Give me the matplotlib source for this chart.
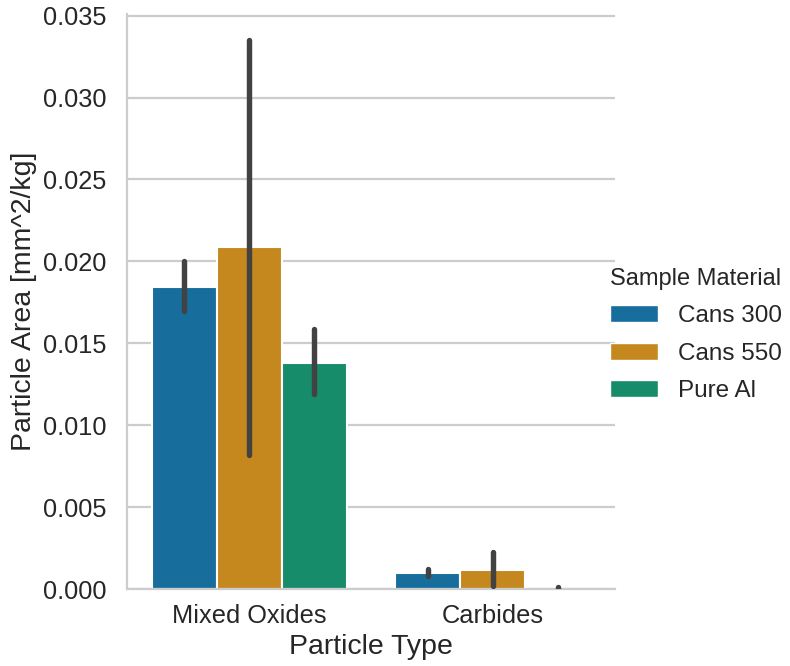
import numpy as np
import matplotlib
matplotlib.use("Agg")
import matplotlib.pyplot as plt
from matplotlib.patches import Patch

particle_types = ["Mixed Oxides", "Carbides"]
materials = ["Cans 300", "Cans 550", "Pure Al"]
colors = ["#176d9c", "#c4881f", "#168c6a"]

# mean particle area per material, one value per particle type
means = {
    "Cans 300": [0.01842, 0.00098],
    "Cans 550": [0.02085, 0.00118],
    "Pure Al": [0.01378, 0.00003],
}
ci_low = {
    "Cans 300": [0.01700, 0.00082],
    "Cans 550": [0.00820, 0.00020],
    "Pure Al": [0.01190, 0.00000],
}
ci_high = {
    "Cans 300": [0.02005, 0.00125],
    "Cans 550": [0.03353, 0.00228],
    "Pure Al": [0.01585, 0.00010],
}

plt.rcParams["font.family"] = ["Liberation Sans", "DejaVu Sans"]
text_color = "#262626"

fig = plt.figure(figsize=(7.9, 6.66), dpi=100)
ax = fig.add_axes([0.161, 0.1156, 0.617, 0.8634])

x = np.arange(len(particle_types))
width = 0.8 / len(materials)
for i, m in enumerate(materials):
    pos = x - 0.4 + width * (i + 0.5)
    ax.bar(pos, means[m], width=width, color=colors[i], edgecolor="white",
           linewidth=1.5, zorder=2)
    ax.vlines(pos, ci_low[m], ci_high[m], color="#424242", linewidth=3.9,
              capstyle="round", zorder=3)

ax.set_xlim(-0.5, 1.5)
ax.set_ylim(0, 0.0351)
ticks = np.arange(0, 0.0351, 0.005)
ax.set_yticks(ticks)
ax.set_yticklabels([f"{v:.3f}" for v in ticks])
ax.set_xticks(x)
ax.set_xticklabels(particle_types)
ax.tick_params(length=0, labelsize=18.3, colors=text_color)
ax.tick_params(axis="y", pad=15)
ax.tick_params(axis="x", pad=11)
ax.yaxis.grid(True, color="#cccccc", linewidth=1.6, zorder=0)
ax.set_axisbelow(True)
for s in ["top", "right"]:
    ax.spines[s].set_visible(False)
for s in ["left", "bottom"]:
    ax.spines[s].set_color("#cccccc")
    ax.spines[s].set_linewidth(1.6)

ax.set_xlabel("Particle Type", fontsize=20.5, color=text_color, labelpad=4)
ax.set_ylabel("Particle Area [mm^2/kg]", fontsize=20.5, color=text_color, labelpad=4)

handles = [Patch(facecolor=c, edgecolor="white") for c in colors]
leg = fig.legend(handles, materials, title="Sample Material", loc="center left",
                 bbox_to_anchor=(0.744, 0.497), frameon=False, fontsize=17.5,
                 title_fontsize=17, labelspacing=0.64)
for t in leg.get_texts():
    t.set_color(text_color)
leg.get_title().set_color(text_color)

fig.savefig("out.png", dpi=100)
